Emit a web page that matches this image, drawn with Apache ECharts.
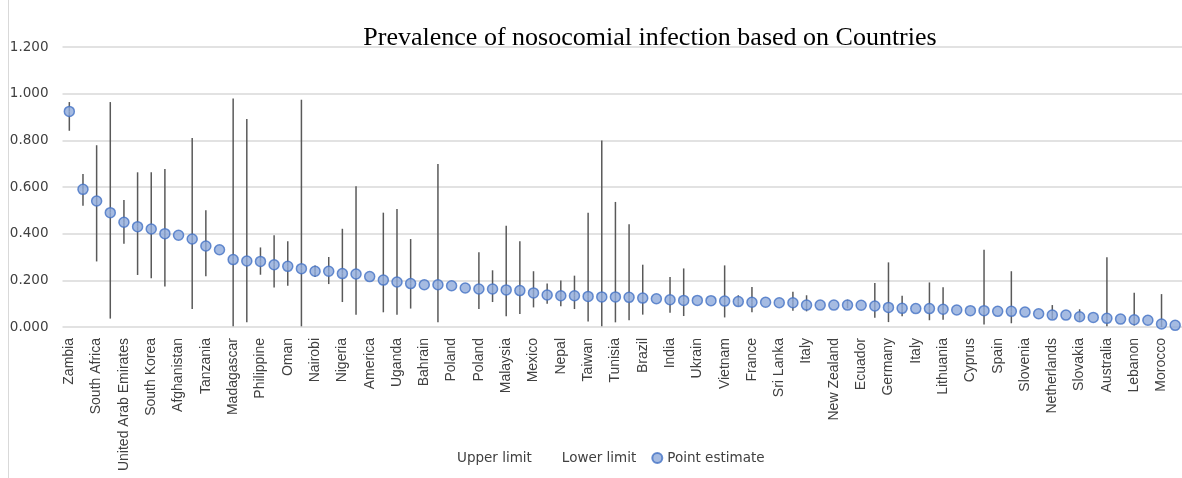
<!DOCTYPE html>
<html>
<head>
<meta charset="utf-8">
<script src="https://cdn.jsdelivr.net/npm/echarts@6/dist/echarts.min.js"></script>
<style>
html,body{margin:0;padding:0;background:#fff;}
#chart{width:1182px;height:478px;}
</style>
</head>
<body>
<div id="chart"></div>
<script>
// Labels shown on the axis (every other category is labelled)
const axisLabels = ["Zambia","South Africa","United Arab Emirates","South Korea","Afghanistan","Tanzania","Madagascar","Philippine","Oman","Nairobi","Nigeria","America","Uganda","Bahrain","Poland","Poland","Malaysia","Mexico","Nepal","Taiwan","Tunisia","Brazil","India","Ukrain","Vietnam","France","Sri Lanka","Italy","New Zealand","Ecuador","Germany","Italy","Lithuania","Cyprus","Spain","Slovenia","Netherlands","Slovakia","Australia","Lebanon","Morocco"];

const pointEstimate = [0.924,0.590,0.540,0.490,0.449,0.430,0.420,0.400,0.393,0.377,0.347,0.331,0.289,0.283,0.281,0.267,0.260,0.250,0.239,0.239,0.229,0.227,0.216,0.201,0.193,0.186,0.181,0.181,0.177,0.167,0.163,0.163,0.159,0.156,0.146,0.137,0.134,0.134,0.131,0.129,0.129,0.127,0.124,0.121,0.117,0.114,0.114,0.113,0.111,0.109,0.106,0.106,0.104,0.104,0.094,0.094,0.094,0.094,0.093,0.090,0.084,0.080,0.079,0.079,0.076,0.073,0.070,0.070,0.067,0.067,0.064,0.057,0.051,0.051,0.044,0.041,0.037,0.034,0.031,0.029,0.013,0.007];

const upperLimit = [0.964,0.656,0.779,0.964,0.544,0.663,0.663,0.677,null,0.810,0.500,null,0.979,0.891,0.341,0.393,0.367,0.974,0.264,0.300,0.421,0.603,null,0.490,0.506,0.377,null,0.699,null,null,0.320,0.243,0.434,0.367,0.239,0.186,0.199,0.220,0.490,0.799,0.536,0.440,0.267,null,0.214,0.251,null,null,0.264,0.136,0.171,null,null,0.151,0.136,null,null,0.117,null,0.189,0.277,0.134,null,0.191,0.170,null,null,0.331,null,0.239,null,null,0.094,null,0.076,null,0.299,null,0.147,null,0.141,null];

const lowerLimit = [0.841,0.520,0.281,0.036,0.357,0.223,0.209,0.174,null,0.077,0.217,null,0.003,0.020,0.224,0.169,0.177,0.003,0.214,0.184,0.107,0.053,null,0.063,0.053,0.079,null,0.020,null,null,0.077,0.107,0.046,0.056,0.084,0.100,0.089,0.077,0.024,0.003,0.020,0.029,0.053,null,0.061,0.047,null,null,0.041,0.089,0.063,null,null,0.070,0.067,null,null,0.080,null,0.040,0.021,0.046,null,0.029,0.031,null,null,0.011,null,0.016,null,null,0.034,null,0.026,null,0.003,null,0.006,null,0.000,null];

const yTicks = [0, 0.2, 0.4, 0.6, 0.8, 1.0, 1.2];

const categories = pointEstimate.map((_, i) => String(i));
const upperData = pointEstimate.map((v, i) => [i, v, upperLimit[i]]);
const lowerData = pointEstimate.map((v, i) => [i, v, lowerLimit[i]]);

function barRenderer(params, api) {
  const lim = api.value(2);
  if (lim === null || lim === undefined || isNaN(lim)) return null;
  const p0 = api.coord([api.value(0), api.value(1)]);
  const p1 = api.coord([api.value(0), lim]);
  return {
    type: 'line',
    shape: {x1: p0[0], y1: p0[1], x2: p1[0], y2: p1[1]},
    style: {stroke: '#595959', lineWidth: 1.5}
  };
}

const chart = echarts.init(document.getElementById('chart'));
const font = 'Liberation Sans, Arial, sans-serif';
const wideFont = 'DejaVu Sans, sans-serif';
chart.setOption({
  animation: false,
  backgroundColor: '#ffffff',
  title: {
    text: 'Prevalence of nosocomial infection based on Countries',
    left: 645, top: 20, textAlign: 'center',
    textStyle: {fontFamily: 'Liberation Serif, Times New Roman, serif', fontWeight: 'normal', fontSize: 26, color: '#000'}
  },
  legend: {
    left: 437, top: 446,
    itemWidth: 10, itemHeight: 10, itemGap: 15,
    textStyle: {fontFamily: wideFont, fontSize: 13.5, color: '#404040'},
    data: [
      {name: 'Upper limit', icon: 'circle', itemStyle: {opacity: 0}},
      {name: 'Lower limit', icon: 'circle', itemStyle: {opacity: 0}},
      {name: 'Point estimate', icon: 'circle'}
    ]
  },
  grid: {left: 62.5, right: -3, top: 47, bottom: 151, containLabel: false},
  xAxis: {
    type: 'category', data: categories, boundaryGap: true,
    axisLine: {show: false}, axisTick: {show: false},
    axisLabel: {
      interval: 1, rotate: 90, margin: 11,
      fontFamily: font, fontSize: 14, color: '#404040',
      formatter: (v, i) => (i % 2 === 0 ? axisLabels[i / 2] : '')
    }
  },
  yAxis: {
    type: 'value', min: yTicks[0], max: yTicks[yTicks.length - 1], interval: 0.2,
    axisLine: {show: false}, axisTick: {show: false},
    splitLine: {lineStyle: {color: '#d9d9d9', width: 1.5}},
    axisLabel: {
      margin: 14, fontFamily: wideFont, fontSize: 13.5, color: '#404040',
      formatter: v => v.toFixed(3)
    }
  },
  series: [
    {name: 'Upper limit', type: 'custom', renderItem: barRenderer, data: upperData, z: 2,
     itemStyle: {color: '#595959'}, encode: {x: 0, y: [1, 2]}},
    {name: 'Lower limit', type: 'custom', renderItem: barRenderer, data: lowerData, z: 2,
     itemStyle: {color: '#595959'}, encode: {x: 0, y: [1, 2]}},
    {name: 'Point estimate', type: 'scatter', data: pointEstimate, z: 5,
     symbol: 'circle', symbolSize: 10,
     itemStyle: {color: '#8eaadb', borderColor: '#4472c4', borderWidth: 1.5}}
  ],
  graphic: [
    {type: 'line', shape: {x1: 8.5, y1: 0, x2: 8.5, y2: 478}, style: {stroke: '#d9d9d9', lineWidth: 1}}
  ]
});
</script>
</body>
</html>
